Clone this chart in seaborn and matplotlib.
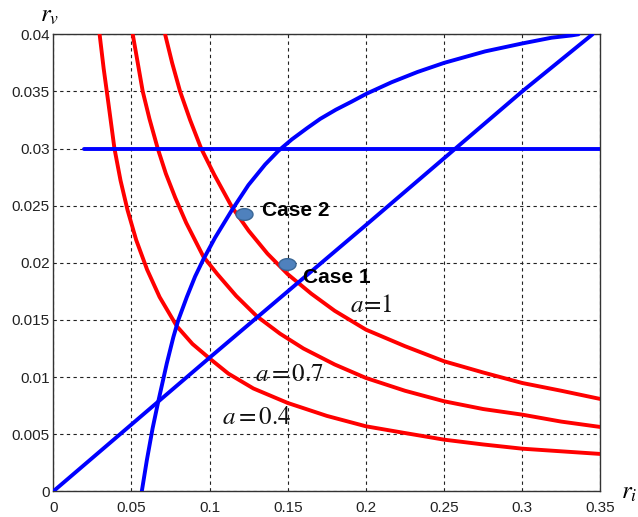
import numpy as np
import pandas as pd
import matplotlib
matplotlib.use("Agg")
import matplotlib.pyplot as plt
import seaborn as sns
from matplotlib.path import Path

# ---------------- data ----------------
# red curves (a = 0.4, 0.7, 1)
a04_x = [0.0296, 0.0322, 0.0352, 0.0391, 0.0430, 0.0475, 0.053, 0.060, 0.068, 0.079, 0.089,
         0.0997, 0.112, 0.128, 0.15, 0.175, 0.2, 0.225, 0.25, 0.275, 0.3, 0.325, 0.35]
a04_y = [0.0400, 0.0370, 0.0340, 0.0300, 0.0272, 0.0246, 0.0220, 0.0194, 0.0170, 0.01445, 0.0129,
         0.01166, 0.0103, 0.0090, 0.00773, 0.0066, 0.00569, 0.0051, 0.00452, 0.0041, 0.00373,
         0.0035, 0.00327]

a07_x = [0.0508, 0.054, 0.0572, 0.0615, 0.0668, 0.072, 0.078, 0.085, 0.096, 0.105, 0.117,
         0.1302, 0.145, 0.16, 0.18, 0.2, 0.225, 0.25, 0.275, 0.3, 0.325, 0.35]
a07_y = [0.0400, 0.0375, 0.0350, 0.0326, 0.0300, 0.0278, 0.0257, 0.0235, 0.02054, 0.0190, 0.0171,
         0.01532, 0.0138, 0.0125, 0.0111, 0.00992, 0.0088, 0.00788, 0.0072, 0.00671, 0.0061,
         0.00563]

a10_x = [0.0715, 0.076, 0.0811, 0.0875, 0.0946, 0.103, 0.1142, 0.125, 0.137, 0.15, 0.165,
         0.18, 0.2, 0.225, 0.25, 0.275, 0.3, 0.325, 0.35]
a10_y = [0.0400, 0.0375, 0.0350, 0.0325, 0.0300, 0.0277, 0.0249, 0.0228, 0.0208, 0.0190, 0.0173,
         0.0158, 0.01415, 0.0127, 0.01138, 0.0104, 0.00948, 0.0088, 0.00808]

# blue lines
diag_x = [0.0, 0.1, 0.2, 0.3, 0.345]
diag_y = [0.0, 0.0117, 0.0233, 0.0350, 0.0400]

horiz_x = [0.0197, 0.35]
horiz_y = [0.03, 0.03]

curve_x = [0.0566, 0.0598, 0.0635, 0.0672, 0.0726, 0.0768, 0.080, 0.0854, 0.0907, 0.096,
           0.1035, 0.1142, 0.1248, 0.1355, 0.144, 0.1526, 0.1625, 0.1708, 0.1808, 0.1908,
           0.2004, 0.2164, 0.233, 0.2501, 0.2762, 0.3001, 0.3188, 0.3316, 0.336]
curve_y = [0.0, 0.0027, 0.0055, 0.0079, 0.0112, 0.0135, 0.0150, 0.0170, 0.0188, 0.0203,
           0.0222, 0.0246, 0.0268, 0.0286, 0.0298, 0.0308, 0.0318, 0.0326, 0.0334, 0.0341,
           0.0348, 0.0358, 0.0367, 0.0375, 0.0385, 0.0392, 0.0397, 0.0399, 0.0400]

case_x = [0.1494, 0.1221]
case_y = [0.0199, 0.0243]
case_labels = ["Case 1", "Case 2"]

a_labels = [r"$a\!=\!1$", r"$a = 0.7$", r"$a = 0.4$"]
a_label_pos = [(0.1895, 0.0163), (0.129, 0.0103), (0.108, 0.0065)]

xticks = [0, 0.05, 0.1, 0.15, 0.2, 0.25, 0.3, 0.35]
xticklabels = ["0", "0.05", "0.1", "0.15", "0.2", "0.25", "0.3", "0.35"]
yticks = [0, 0.005, 0.01, 0.015, 0.02, 0.025, 0.03, 0.035, 0.04]
yticklabels = ["0", "0.005", "0.01", "0.015", "0.02", "0.025", "0.03", "0.035", "0.04"]

# ---------------- plotting ----------------
sns.set_style("white")
plt.rcParams["font.family"] = ["Liberation Sans", "DejaVu Sans"]
plt.rcParams["mathtext.fontset"] = "stix"

fig = plt.figure(figsize=(6.38, 5.17), dpi=100)
ax = fig.add_axes([0.0836, 0.0497, 0.941 - 0.0836, 0.9337 - 0.0497])

RED = "#ff0000"
BLUE = "#0000ff"
LW = 2.8

for xs, ys in [(a04_x, a04_y), (a07_x, a07_y), (a10_x, a10_y)]:
    sns.lineplot(x=xs, y=ys, ax=ax, color=RED, lw=LW, sort=False, estimator=None, zorder=3)

for xs, ys in [(diag_x, diag_y), (horiz_x, horiz_y), (curve_x, curve_y)]:
    sns.lineplot(x=xs, y=ys, ax=ax, color=BLUE, lw=LW, sort=False, estimator=None, zorder=3)

# elliptical marker
t = np.linspace(0, 2 * np.pi, 60)
ell = Path(np.column_stack([1.45 * np.cos(t), np.sin(t)]), closed=True)
sns.scatterplot(x=case_x, y=case_y, ax=ax, marker=ell, s=150, color="#4f81bd",
                edgecolor="#3a6796", linewidth=1.0, zorder=5)

ax.text(0.1599, 0.0187, case_labels[0], fontsize=15, fontweight="bold", color="black",
        va="center", ha="left", zorder=6)
ax.text(0.1334, 0.0246, case_labels[1], fontsize=15, fontweight="bold", color="black",
        va="center", ha="left", zorder=6)

for lab, (lx, ly) in zip(a_labels, a_label_pos):
    ax.text(lx, ly, lab, fontsize=18, va="center", ha="left", color="#111111", zorder=6)

ax.set_xlim(0, 0.35)
ax.set_ylim(0, 0.04)
ax.set_xticks(xticks)
ax.set_xticklabels(xticklabels)
ax.set_yticks(yticks)
ax.set_yticklabels(yticklabels)
ax.tick_params(axis="x", direction="in", length=4, pad=7, labelsize=11, colors="#333333",
               labelcolor="#222222")
ax.tick_params(axis="y", direction="in", length=4, pad=2.5, labelsize=11, colors="#333333",
               labelcolor="#222222")

ax.grid(True, color="#222222", linestyle=(0, (3, 3)), linewidth=0.8, zorder=1)
ax.set_axisbelow(True)
for sp in ax.spines.values():
    sp.set_color("#333333")
    sp.set_linewidth(1.0)
    sp.set_visible(True)

ax.set_xlabel("")
ax.set_ylabel("")
fig.text(40 / 638, 1 - 15 / 517, r"$r_v$", fontsize=18, ha="left", va="center", color="black")
fig.text(621 / 638, 1 - 492 / 517, r"$r_i$", fontsize=18, ha="left", va="center", color="black")

fig.savefig("out.png", dpi=100)
